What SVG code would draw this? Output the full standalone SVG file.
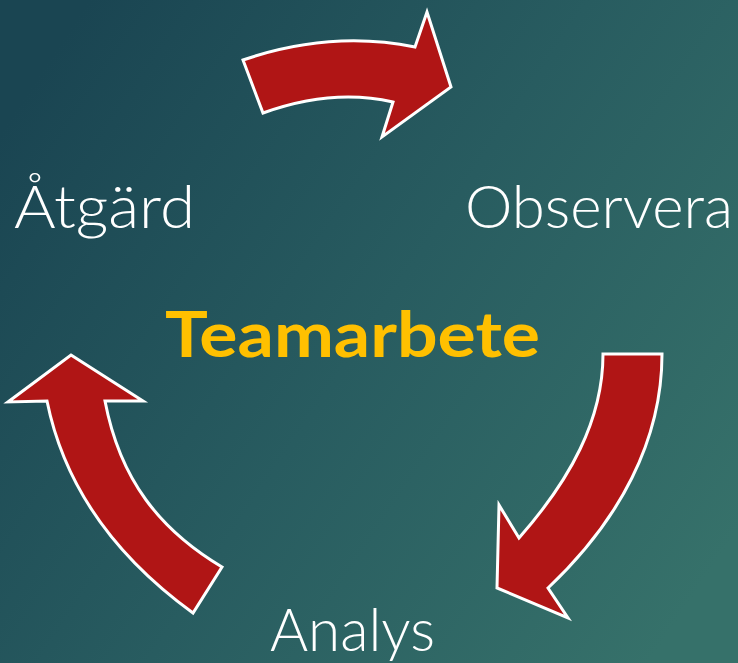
<svg xmlns="http://www.w3.org/2000/svg" width="738" height="663" viewBox="0 0 738 663">
  <defs>
    <linearGradient id="bg" x1="0" y1="0.2" x2="1" y2="0.8">
      <stop offset="0" stop-color="#1a4552"/>
      <stop offset="0.5" stop-color="#285c60"/>
      <stop offset="1" stop-color="#36716a"/>
    </linearGradient>
  </defs>
  <style>
    .arrow { fill: #b01515; stroke: #ffffff; stroke-width: 3; stroke-linejoin: miter; }
    .lbl { font-family: Lato, "Open Sans", "DejaVu Sans", sans-serif; font-weight: 300; fill: #ffffff; font-size: 59px; }
    .title { font-family: Lato, "Open Sans", "DejaVu Sans", sans-serif; font-weight: 700; fill: #ffc000; font-size: 63px; }
  </style>
  <rect width="738" height="663" fill="url(#bg)"/>
  <g id="connectors">
    <path id="arrow-top" class="arrow" d="M243,60 Q331,30 415,47 L427,12 L451,87 L382,137 L393,102 Q332,88 263,113 Z"/>
    <path id="arrow-right" class="arrow" d="M603,354 L662,354 C662,440 620,520 548,588 L568,618 L497,588 L499,505 L519,538 C570,480 603,420 603,354 Z"/>
    <path id="arrow-left" class="arrow" d="M71,355 L143,401 L105,401 C120,480 160,530 222,567 L193,613 C120,560 65,490 47,401 L8,402 Z"/>
  </g>
  <g id="node-atgard"><text class="lbl" x="14" y="228" textLength="181" lengthAdjust="spacingAndGlyphs">Åtgärd</text></g>
  <g id="node-observera"><text class="lbl" x="465" y="228" textLength="268" lengthAdjust="spacingAndGlyphs">Observera</text></g>
  <g id="node-analys"><text class="lbl" x="270" y="651" font-size="56" textLength="165" lengthAdjust="spacingAndGlyphs">Analys</text></g>
  <g id="node-teamarbete"><text class="title" x="165" y="357" textLength="375" lengthAdjust="spacingAndGlyphs">Teamarbete</text></g>
</svg>
